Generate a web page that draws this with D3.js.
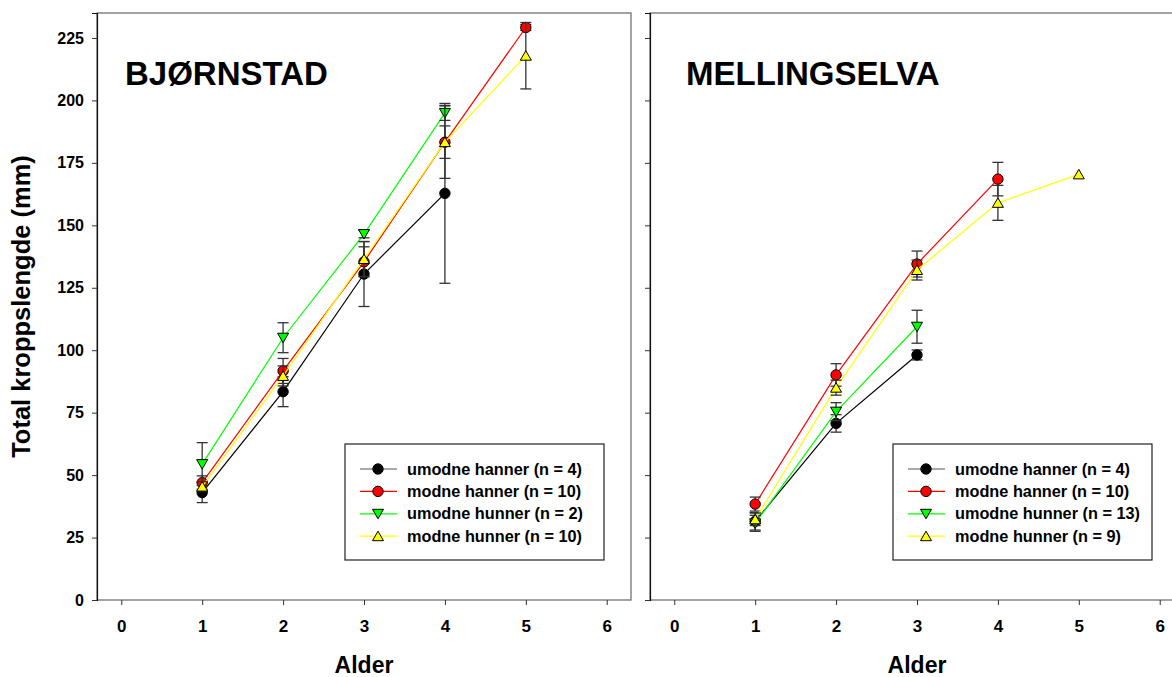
<!DOCTYPE html>
<html>
<head>
<meta charset="utf-8">
<script src="https://cdn.jsdelivr.net/npm/d3@7"></script>
<style>
    body { margin: 0; background: #fff; }
    svg { font-family: Arial, 'Liberation Sans', sans-serif; font-weight: bold; }
</style>
</head>
<body>
<svg id="chart" width="1172" height="677"></svg>
<script>
    // ages on x axis
    const ages = [1, 2, 3, 4, 5];
    const xTicks = [0, 1, 2, 3, 4, 5, 6];
    const yTicks = [0, 25, 50, 75, 100, 125, 150, 175, 200, 225];

    const seriesNames = ["umodne hanner", "modne hanner", "umodne hunner", "modne hunner"];
    const seriesColors = ["#000000", "#ff0000", "#00ff00", "#ffff00"];
    const seriesSymbols = ["circle", "circle", "down", "up"];

    // Bjørnstad
    const bjN = [4, 10, 2, 10];
    const bjUmodneHanner = [43.0, 83.4, 130.5, 162.8];
    const bjUmodneHannerErr = [4.0, 6.0, 13.0, 36.0];
    const bjModneHanner = [47.0, 91.7, 135.4, 183.3, 229.2];
    const bjModneHannerErr = [2.7, 5.0, 6.0, 6.5, 1.2];
    const bjUmodneHunner = [54.4, 105.0, 146.5, 195.0];
    const bjUmodneHunnerErr = [8.6, 6.0, 1.5, 3.0];
    const bjModneHunner = [45.4, 89.7, 136.5, 183.3, 217.9];
    const bjModneHunnerErr = [2.0, 4.0, 7.0, 14.5, 13.3];

    // Mellingselva
    const meN = [4, 10, 13, 9];
    const meUmodneHanner = [31.5, 70.7, 98.1];
    const meUmodneHannerErr = [3.5, 3.5, 2.0];
    const meModneHanner = [38.4, 90.1, 134.5, 168.5];
    const meModneHannerErr = [2.8, 4.5, 5.2, 6.7];
    const meUmodneHunner = [30.7, 75.4, 109.4];
    const meUmodneHunnerErr = [3.2, 3.6, 6.6];
    const meModneHunner = [32.3, 85.0, 132.1, 159.0, 170.4];
    const meModneHunnerErr = [2.5, 3.0, 4.0, 7.0, 0];

    const panels = [
        {
            title: "BJØRNSTAD", left: 97, titleX: 125, n: bjN,
            values: [bjUmodneHanner, bjModneHanner, bjUmodneHunner, bjModneHunner],
            errors: [bjUmodneHannerErr, bjModneHannerErr, bjUmodneHunnerErr, bjModneHunnerErr],
            legendX: 345
        },
        {
            title: "MELLINGSELVA", left: 650, titleX: 686, n: meN,
            values: [meUmodneHanner, meModneHanner, meUmodneHunner, meModneHunner],
            errors: [meUmodneHannerErr, meModneHannerErr, meUmodneHunnerErr, meModneHunnerErr],
            legendX: 893
        }
    ];

    const plotTop = 13, plotH = 587, plotW = 534;
    const svg = d3.select("#chart");

    const y = d3.scaleLinear().domain([0, 235]).range([plotTop + plotH, plotTop]);

    function symbolPath(kind) {
        if (kind === "down") return "M-5.5,-4.5L5.5,-4.5L0,5z";
        if (kind === "up") return "M-5.5,4.5L5.5,4.5L0,-5z";
        return d3.symbol().type(d3.symbolCircle).size(Math.PI * 27)();
    }

    panels.forEach((p, pi) => {
        const x = d3.scaleLinear().domain([-0.3, 6.3]).range([p.left, p.left + plotW]);
        const g = svg.append("g");

        // frame
        g.append("rect")
            .attr("x", p.left).attr("y", plotTop)
            .attr("width", plotW).attr("height", plotH)
            .attr("fill", "none").attr("stroke", "#666").attr("stroke-width", 1.2);

        // axes
        const yAxis = d3.axisLeft(y).tickValues(yTicks).tickSize(5)
            .tickFormat(pi === 0 ? d3.format("d") : "");
        const gy = g.append("g").attr("transform", `translate(${p.left},0)`).call(yAxis);
        gy.select(".domain").attr("stroke", "#111").attr("stroke-width", 1.2);
        gy.selectAll(".tick line").attr("stroke", "#333");
        gy.selectAll("text").attr("font-size", 16).attr("font-weight", "bold").attr("fill", "#000")
            .attr("x", -13).attr("font-family", "Arial, 'Liberation Sans', sans-serif");

        const xAxis = d3.axisBottom(x).tickValues(xTicks).tickSize(5).tickFormat(d3.format("d"));
        const gx = g.append("g").attr("transform", `translate(0,${plotTop + plotH})`).call(xAxis);
        gx.select(".domain").remove();
        gx.selectAll(".tick line").attr("stroke", "#333");
        gx.selectAll("text").attr("font-size", 17).attr("font-weight", "bold").attr("fill", "#000")
            .attr("y", 20).attr("font-family", "Arial, 'Liberation Sans', sans-serif");

        // x axis title
        g.append("text")
            .attr("x", p.left + plotW / 2).attr("y", 673)
            .attr("text-anchor", "middle").attr("font-size", 23)
            .text("Alder");

        // panel title
        g.append("text")
            .attr("x", p.titleX).attr("y", 85)
            .attr("font-size", 33)
            .text(p.title);

        // series
        p.values.forEach((vals, si) => {
            const pts = vals.map((v, i) => ({ age: ages[i], v: v, e: p.errors[si][i] }));
            const sg = g.append("g");

            sg.append("path")
                .datum(pts)
                .attr("fill", "none")
                .attr("stroke", seriesColors[si])
                .attr("stroke-width", 1.2)
                .attr("d", d3.line().x(d => x(d.age)).y(d => y(d.v)));

            const eb = sg.selectAll(".err").data(pts.filter(d => d.e > 0)).enter().append("g")
                .attr("stroke", "#333").attr("stroke-width", 1.3);
            eb.append("line")
                .attr("x1", d => x(d.age)).attr("x2", d => x(d.age))
                .attr("y1", d => y(d.v - d.e)).attr("y2", d => y(d.v + d.e));
            eb.append("line")
                .attr("x1", d => x(d.age) - 5.5).attr("x2", d => x(d.age) + 5.5)
                .attr("y1", d => y(d.v + d.e)).attr("y2", d => y(d.v + d.e));
            eb.append("line")
                .attr("x1", d => x(d.age) - 5.5).attr("x2", d => x(d.age) + 5.5)
                .attr("y1", d => y(d.v - d.e)).attr("y2", d => y(d.v - d.e));

            sg.selectAll(".mark").data(pts).enter().append("path")
                .attr("transform", d => `translate(${x(d.age)},${y(d.v)})`)
                .attr("d", symbolPath(seriesSymbols[si]))
                .attr("fill", seriesColors[si])
                .attr("stroke", "#000").attr("stroke-width", 1);
        });

        // legend
        const lx = p.legendX, ly = 444, lw = 259, lh = 116;
        const lg = g.append("g");
        lg.append("rect")
            .attr("x", lx).attr("y", ly).attr("width", lw).attr("height", lh)
            .attr("fill", "#fff").attr("stroke", "#222").attr("stroke-width", 1.2);
        seriesNames.forEach((name, si) => {
            const ry = ly + 25 + si * 22.4;
            lg.append("line")
                .attr("x1", lx + 15).attr("x2", lx + 52)
                .attr("y1", ry).attr("y2", ry)
                .attr("stroke", si === 0 ? "#555" : seriesColors[si]).attr("stroke-width", 1.2);
            lg.append("path")
                .attr("transform", `translate(${lx + 33},${ry})`)
                .attr("d", symbolPath(seriesSymbols[si]))
                .attr("fill", seriesColors[si])
                .attr("stroke", "#000");
            lg.append("text")
                .attr("x", lx + 62).attr("y", ry + 5.5)
                .attr("font-size", 16.3)
                .text(`${name} (n = ${p.n[si]})`);
        });
    });

    // y axis title
    svg.append("text")
        .attr("transform", `translate(30,${plotTop + plotH / 2}) rotate(-90)`)
        .attr("text-anchor", "middle")
        .attr("font-size", 25.5)
        .text("Total kroppslengde (mm)");
</script>
</body>
</html>
